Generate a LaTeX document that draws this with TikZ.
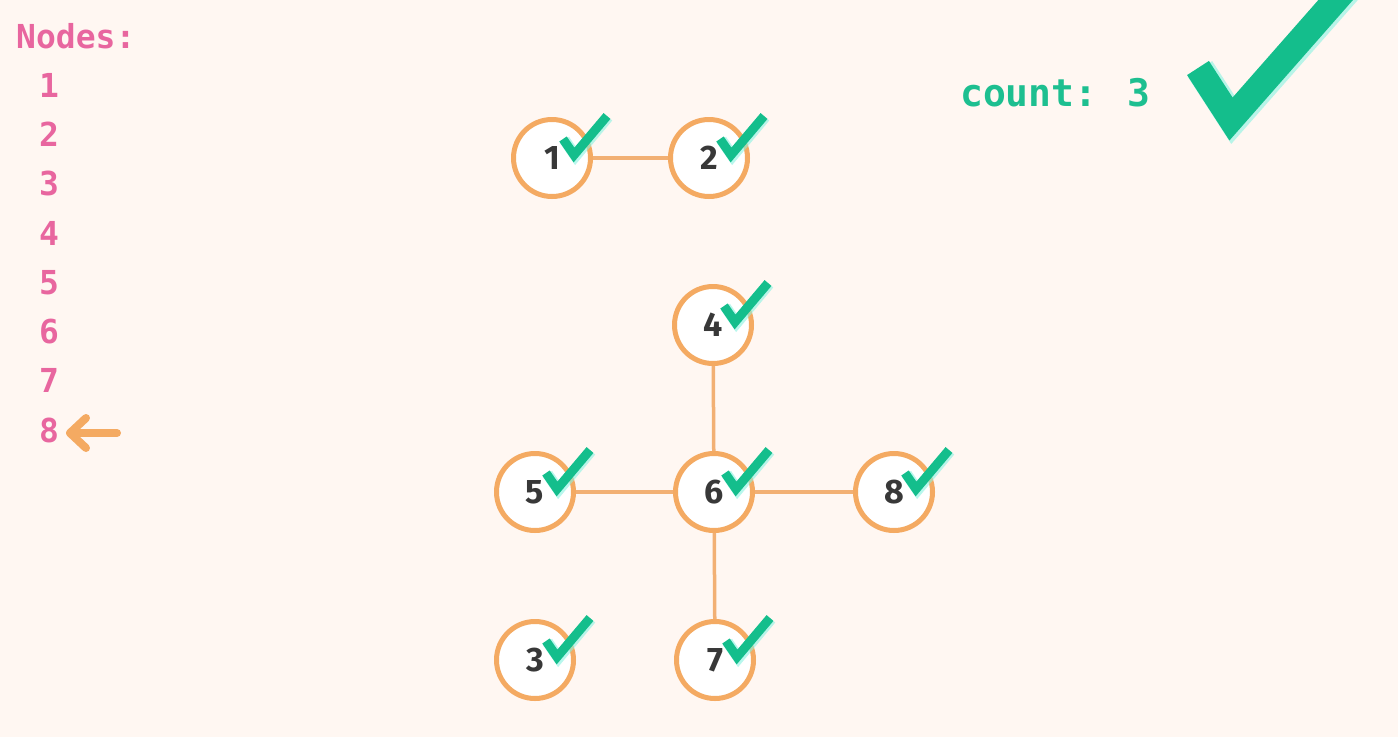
\documentclass[tikz,border=0pt]{standalone}
\usepackage{fontspec}
\setmainfont{Fira Sans}
\newfontfamily\monob{DejaVu Sans Mono Bold}
\newfontfamily\firab{Fira Sans Bold}
\definecolor{bgc}{HTML}{FFF7F2}
\definecolor{pinkt}{HTML}{E8669F}
\definecolor{greent}{HTML}{1DBF90}
\definecolor{chkc}{HTML}{14BE8C}
\definecolor{glowc}{HTML}{8AF3E2}
\definecolor{orng}{HTML}{F4AA62}
\definecolor{edgec}{HTML}{F2B074}
\definecolor{digc}{HTML}{383838}
\newcommand\dig[1]{\raisebox{-2pt}{#1}}
\tikzset{
  gnode/.style={circle, draw=orng, line width=5pt, fill=white, minimum size=77pt, inner sep=0pt,
    text=digc, font=\firab\fontsize{34}{34}\selectfont},
  gedge/.style={draw=edgec, line width=3.5pt},
  chk/.style={draw=chkc, line width=9pt, line join=miter},
  chkglow/.style={draw=glowc, line width=11pt, opacity=0.6},
  pinktext/.style={text=pinkt, font=\monob\fontsize{33}{33}\selectfont, inner sep=0pt, anchor=base west},
  arr/.style={draw=orng, line width=8pt, line cap=round, line join=round},
}
\newcommand\drawcheck[1]{%
  \draw[chkglow] ([shift={(12.5,-18)}]#1.center) -- ([shift={(23.5,-2)}]#1.center) -- ([shift={(56,-41)}]#1.center);
  \draw[chk] ([shift={(11,-19)}]#1.center) -- ([shift={(22,-3)}]#1.center) -- ([shift={(55,-42)}]#1.center);
}
\begin{document}
\begin{tikzpicture}[x=1pt,y=-1pt]
\useasboundingbox (0,0) rectangle (1398,737);
\fill[bgc] (0,0) rectangle (1398,737);

% left list
\node[pinktext] (title) at (16,48.5) {Nodes:};
\node[pinktext] (l1) at (39,97.5) {1};
\node[pinktext] (l2) at (39,146.5) {2};
\node[pinktext] (l3) at (39,195.5) {3};
\node[pinktext] (l4) at (39,245.5) {4};
\node[pinktext] (l5) at (39,294.5) {5};
\node[pinktext] (l6) at (39,343) {6};
\node[pinktext] (l7) at (39,392.5) {7};
\node[pinktext] (l8) at (39,442) {8};
\coordinate (atip) at (70,433);
\coordinate (atail) at (117,433);
\draw[arr] (atail) -- (atip);
\draw[arr] ([shift={(16,-15)}]atip) -- (atip) -- ([shift={(16,15)}]atip);

% count
\node[text=greent, font=\monob\fontsize{38}{38}\selectfont, inner sep=0pt, anchor=base west] (count) at (960,106) {count: 3};

% big check
\begin{scope}
\clip (0,0) rectangle (1398,737);
\coordinate (b1) at (1198,68);
\coordinate (b2) at (1231,119);
\coordinate (b3) at (1355,-22);
\draw[draw=glowc, line width=29pt, opacity=0.6] ([shift={(2,1)}]b1) -- ([shift={(2,1)}]b2) -- ([shift={(2,1)}]b3);
\draw[draw=chkc, line width=26pt, line join=miter] (b1) -- (b2) -- (b3);
\end{scope}

% graph nodes
\node[gnode] (n1) at (552,158) {\dig{1}};
\node[gnode] (n2) at (709,158) {\dig{2}};
\node[gnode] (n4) at (713,325) {\dig{4}};
\node[gnode] (n5) at (535,492) {\dig{5}};
\node[gnode] (n6) at (714,492) {\dig{6}};
\node[gnode] (n8) at (894,492) {\dig{8}};
\node[gnode] (n3) at (535,660) {\dig{3}};
\node[gnode] (n7) at (715,660) {\dig{7}};

\draw[gedge] (n1) -- (n2);
\draw[gedge] (n4) -- (n6);
\draw[gedge] (n5) -- (n6);
\draw[gedge] (n6) -- (n8);
\draw[gedge] (n6) -- (n7);

\drawcheck{n1}
\drawcheck{n2}
\drawcheck{n4}
\drawcheck{n5}
\drawcheck{n6}
\drawcheck{n8}
\drawcheck{n3}
\drawcheck{n7}
\end{tikzpicture}
\end{document}
